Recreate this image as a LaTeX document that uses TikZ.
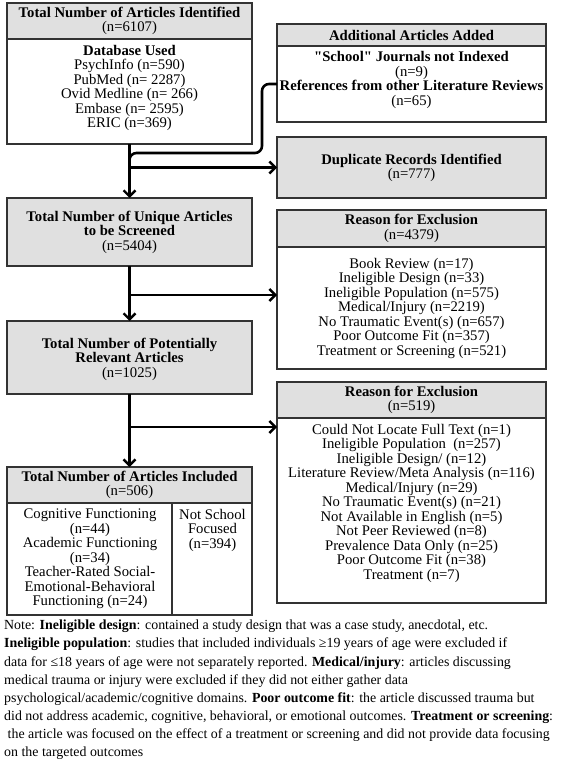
\documentclass[tikz,border=0pt]{standalone}
\usepackage{fontspec}
\setmainfont{Liberation Serif}
\usetikzlibrary{arrows.meta}
\definecolor{hdr}{HTML}{E0E0E0}
\definecolor{bord}{HTML}{333333}
\newcommand\dq{{\XeTeXglyph\XeTeXcharglyph"22\relax}}
\begin{document}
\begin{tikzpicture}[x=1pt,y=-1pt,
  box/.style={draw=bord, line width=2.2pt, inner sep=0pt, outer sep=0pt},
  gbox/.style={box, fill=hdr},
  txt/.style={inner sep=0pt, align=center, font=\fontsize{14.7}{14.5}\selectfont},
  conn/.style={line width=2.6pt, -{Straight Barb[length=6pt,width=12pt,line width=2.4pt]}},
  plain/.style={line width=2.6pt}]
\useasboundingbox (0,0) rectangle (567,759);

% Box 1: identified
\node[gbox, minimum width=245pt, minimum height=36pt] (h1) at (129.5,21) {};
\node[box, minimum width=245pt, minimum height=105pt] (b1) at (129.5,91.5) {};
\node[txt] (t1h) at (129.5,21) {\textbf{Total Number of Articles Identified}\\(n=6107)};
\node[txt] (t1b) at (129.5,88) {\textbf{Database Used}\\PsychInfo (n=590)\\PubMed (n= 2287)\\Ovid Medline (n= 266)\\Embase (n= 2595)\\ERIC (n=369)};

% Box 2: additional
\node[gbox, minimum width=269pt, minimum height=22pt] (h2) at (411.5,35) {};
\node[box, minimum width=269pt, minimum height=76pt] (b2) at (411.5,84) {};
\node[txt] (t2h) at (411.5,35) {\textbf{Additional Articles Added}};
\node[txt] (t2b) at (411.5,80) {\textbf{\dq School\dq{} Journals not Indexed}\\(n=9)\\\textbf{References from other Literature Reviews}\\(n=65)};

% Box 3: duplicates
\node[gbox, minimum width=269pt, minimum height=61pt] (b3) at (411.5,167.5) {};
\node[txt] (t3) at (411.5,168) {\textbf{Duplicate Records Identified}\\(n=777)};

% Box 4: unique
\node[gbox, minimum width=245pt, minimum height=68pt] (b4) at (129.5,232) {};
\node[txt] (t4) at (129.5,232) {\textbf{Total Number of Unique Articles}\\\textbf{to be Screened}\\(n=5404)};

% Box 5: reason 1
\node[gbox, minimum width=269pt, minimum height=37pt] (h5) at (411.5,228.5) {};
\node[box, minimum width=269pt, minimum height=122pt] (b5) at (411.5,308) {};
\node[txt] (t5h) at (411.5,228.5) {\textbf{Reason for Exclusion}\\(n=4379)};
\node[txt] (t5b) at (411.5,308) {Book Review (n=17)\\Ineligible Design (n=33)\\Ineligible Population (n=575)\\Medical/Injury (n=2219)\\No Traumatic Event(s) (n=657)\\Poor Outcome Fit (n=357)\\Treatment or Screening (n=521)};

% Box 6: potentially relevant
\node[gbox, minimum width=245pt, minimum height=73pt] (b6) at (129.5,357.5) {};
\node[txt] (t6) at (129.5,359) {\textbf{Total Number of Potentially}\\\textbf{Relevant Articles}\\(n=1025)};

% Box 7: reason 2
\node[gbox, minimum width=269pt, minimum height=36pt] (h7) at (411.5,400) {};
\node[box, minimum width=269pt, minimum height=185pt] (b7) at (411.5,510.5) {};
\node[txt] (t7h) at (411.5,400) {\textbf{Reason for Exclusion}\\(n=519)};
\node[txt, anchor=north] (t7b) at (411.5,424) {Could Not Locate Full Text (n=1)\\Ineligible Population\ \ (n=257)\\Ineligible Design/ (n=12)\\Literature Review/Meta Analysis (n=116)\\Medical/Injury (n=29)\\No Traumatic Event(s) (n=21)\\Not Available in English (n=5)\\Not Peer Reviewed (n=8)\\Prevalence Data Only (n=25)\\Poor Outcome Fit (n=38)\\Treatment (n=7)};

% Box 8: included
\node[gbox, minimum width=245pt, minimum height=36pt] (h8) at (129.5,485) {};
\node[box, minimum width=165pt, minimum height=112pt] (b8l) at (89.5,559) {};
\node[box, minimum width=80pt, minimum height=112pt] (b8r) at (212,559) {};
\node[txt] (t8h) at (129.5,485) {\textbf{Total Number of Articles Included}\\(n=506)};
\node[txt, anchor=north] (t8l) at (90,509) {Cognitive Functioning\\(n=44)\\Academic Functioning\\(n=34)\\Teacher-Rated Social-\\Emotional-Behavioral\\Functioning (n=24)};
\node[txt, anchor=north] (t8r) at (212.5,509) {Not School\\Focused\\(n=394)};

% connectors
\coordinate (j1) at (129.5,153);
\coordinate (j2) at (b1.south |- b3.west);
\coordinate (j3) at (129.5,295);
\coordinate (j4) at (129.5,427);
\draw[conn] (b1.south) -- (b4.north);
\draw[plain, rounded corners=7pt] (b2.west) -- ++(-15,0) -- ++(0,69) -- (j1) -- ++(0,16);
\draw[conn] (j2) -- (b3.west);
\draw[conn] (b4.south) -- (b6.north);
\draw[conn] (j3) -- (j3 -| b5.west);
\draw[conn] (b6.south) -- (h8.north);
\draw[conn] (j4) -- (j4 -| b7.west);

% note
\node[inner sep=0pt, anchor=north west, align=left, font=\fontsize{13.9}{18.1}\selectfont] (note) at (4,620) {Note: \textbf{Ineligible design}: contained a study design that was a case study, anecdotal, etc.\\
\textbf{Ineligible population}: studies that included individuals ≥19 years of age were excluded if\\
data for ≤18 years of age were not separately reported. \textbf{Medical/injury}: articles discussing\\
medical trauma or injury were excluded if they did not either gather data\\
psychological/academic/cognitive domains. \textbf{Poor outcome fit}: the article discussed trauma but\\
did not address academic, cognitive, behavioral, or emotional outcomes. \textbf{Treatment or screening}:\\
\hspace*{3.5pt}the article was focused on the effect of a treatment or screening and did not provide data focusing\\
on the targeted outcomes};
\end{tikzpicture}
\end{document}
